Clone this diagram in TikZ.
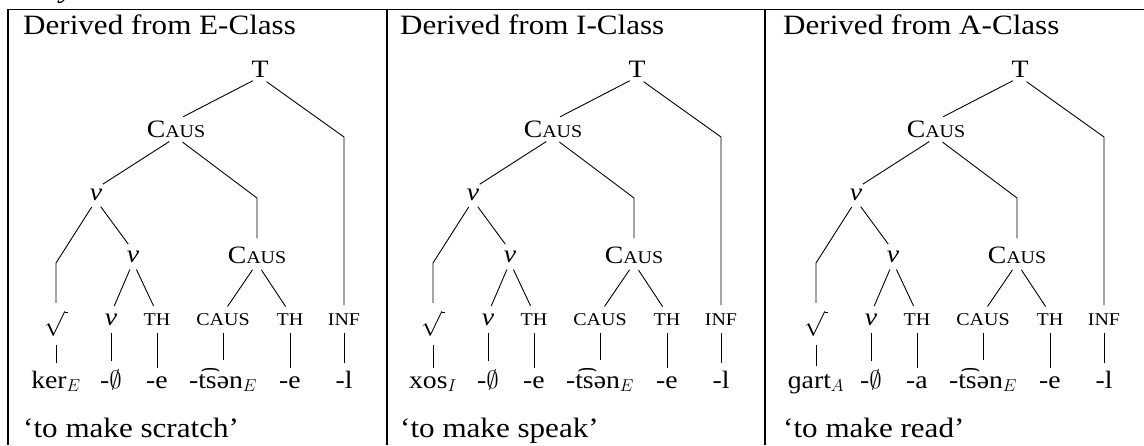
\documentclass[tikz,border=0pt]{standalone}
\usepackage{fontspec}
\setmainfont{Liberation Serif}[FakeStretch=1.11]
\newcommand\hdsize{\fontsize{28}{32}\selectfont}
\newcommand\trsize{\fontsize{25}{29}\selectfont}
\newcommand\scx[1]{{\fontsize{18}{21}\selectfont #1}}
\newcommand\myroot{$\sqrt{\hbox to 3pt{}}$}
\tikzset{
  lab/.style={anchor=base,inner sep=0pt,outer sep=0pt,font=\trsize},
  br/.style={line width=0.9pt,shorten <=8pt,shorten >=8pt},
  tbl/.style={line width=1.2pt},
  hd/.style={anchor=base west,inner sep=0pt,font=\hdsize}
}
% #1 xshift, #2 prefix, #3 class letter, #4 root, #5 theme vowel, #6 gloss
\newcommand\mypanel[6]{%
\begin{scope}[xshift=#1]
  \node[hd] (#2hd) at (15,34) {Derived from #3-Class};
  \node[hd] (#2gl) at (15,437) {‘to make #6’};
  \node[lab] (#2T) at (252,77) {T};
  \node[lab] (#2C1) at (168,137) {C\scx{AUS}};
  \node[lab] (#2v1) at (88,200) {\textit{v}};
  \node[lab] (#2v2) at (125,262) {\textit{v}};
  \node[lab] (#2C2) at (249,263) {C\scx{AUS}};
  \node[lab] (#2r) at (48,325) {\myroot};
  \node[lab] (#2v3) at (103,325) {\textit{v}};
  \node[lab] (#2th1) at (149,325) {\scx{TH}};
  \node[lab] (#2ca) at (215,325) {\scx{CAUS}};
  \node[lab] (#2th2) at (282,325) {\scx{TH}};
  \node[lab] (#2inf) at (336,325) {\scx{INF}};
  \node[lab] (#2tr) at (48,388) {#4};
  \node[lab] (#2tv) at (103,388) {-$\emptyset$};
  \node[lab] (#2tth1) at (149,388) {-#5};
  \node[lab] (#2tca) at (215,388) {-t͡sən$_E$};
  \node[lab] (#2tth2) at (282,388) {-e};
  \node[lab] (#2tinf) at (336,388) {-l};
  \coordinate (#2b1) at (336,137);
  \coordinate (#2b2) at (249,198);
  \coordinate (#2b3) at (48,263);
  \draw[br] (#2T.south) -- (#2C1.north);
  \draw[br] (#2T.south) -- (#2b1) -- (#2inf.north);
  \draw[br] (#2C1.south) -- (#2v1.north);
  \draw[br] (#2C1.south) -- (#2b2) -- (#2C2.north);
  \draw[br] (#2v1.south) -- (#2b3) -- (#2r.north);
  \draw[br] (#2v1.south) -- (#2v2.north);
  \draw[br] (#2v2.south) -- (#2v3.north);
  \draw[br] (#2v2.south) -- (#2th1.north);
  \draw[br] (#2C2.south) -- (#2ca.north);
  \draw[br] (#2C2.south) -- (#2th2.north);
  \draw[br] (#2r.south) -- (#2tr.north);
  \draw[br] (#2v3.south) -- (#2tv.north);
  \draw[br] (#2th1.south) -- (#2tth1.north);
  \draw[br] (#2ca.south) -- (#2tca.north);
  \draw[br] (#2th2.south) -- (#2tth2.north);
  \draw[br] (#2inf.south) -- (#2tinf.north);
\end{scope}}
\begin{document}
\begin{tikzpicture}[x=1pt,y=-1pt]
\useasboundingbox (0,0) rectangle (1144,445);
\fill[white] (0,0) rectangle (1144,445);
\node[anchor=base,inner sep=0pt,font=\hdsize] (frag) at (67,-3) {\textit{y}};
\draw[tbl] (8,445) -- (8,9.5) -- (1144,9.5);
\draw[tbl] (387,9.5) -- (387,445);
\draw[tbl] (765,9.5) -- (765,445);
\mypanel{8pt}{a}{E}{ker$_E$}{e}{scratch}
\mypanel{385pt}{b}{I}{xos$_I$}{e}{speak}
\mypanel{768pt}{c}{A}{ɡart$_A$}{a}{read}
\end{tikzpicture}
\end{document}
